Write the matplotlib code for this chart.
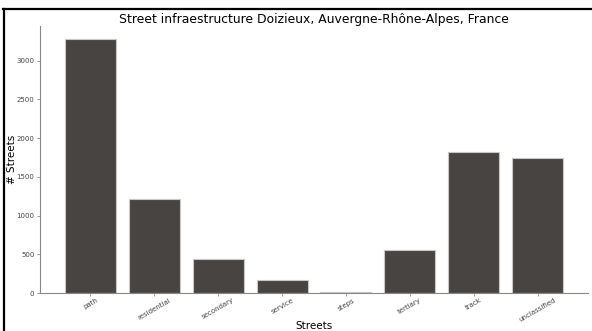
import matplotlib
matplotlib.use("Agg")
import matplotlib.pyplot as plt
from matplotlib.lines import Line2D

categories = ["path", "residential", "secondary", "service", "steps",
              "tertiary", "track", "unclassified"]
counts = [3282, 1211, 435, 168, 17, 555, 1826, 1748]

fig = plt.figure(figsize=(5.92, 3.31), dpi=100)
ax = fig.add_axes([40/592, 1 - 293/331, 548/592, 267/331])

ax.bar(categories, counts, width=0.8, color="#474442",
       edgecolor="#c8c8c8", linewidth=0.8)

ax.set_title("Street infraestructure Doizieux, Auvergne-Rhône-Alpes, France",
             fontsize=8.9, pad=1.5)
ax.set_xlabel("Streets", fontsize=7.5)
ax.set_ylabel("# Streets", fontsize=7.5)
ax.xaxis.set_label_coords(0.5, -0.124, transform=ax.transAxes)
ax.yaxis.set_label_coords(-0.051, 0.5, transform=ax.transAxes)
ax.xaxis.label.set_va("center")
ax.yaxis.label.set_va("center")

ax.tick_params(axis="y", labelsize=5.0, labelcolor="#444444", length=2,
               width=0.6, color="#888888", pad=2)
ax.tick_params(axis="x", labelsize=5.0, labelcolor="#444444", length=2,
               width=0.6, color="#888888", pad=1)
plt.setp(ax.get_xticklabels(), rotation=30)

for s in ["top", "right"]:
    ax.spines[s].set_visible(False)
for s in ["left", "bottom"]:
    ax.spines[s].set_color("#888888")
    ax.spines[s].set_linewidth(0.8)

# black frame from the screenshot (top and left edges)
fig.add_artist(Line2D([3/592, 1], [1 - 9/331, 1 - 9/331], color="black",
                      lw=1.6, transform=fig.transFigure))
fig.add_artist(Line2D([4/592, 4/592], [0, 1 - 9/331], color="black",
                      lw=1.6, transform=fig.transFigure))

fig.savefig("out.png", dpi=100)
